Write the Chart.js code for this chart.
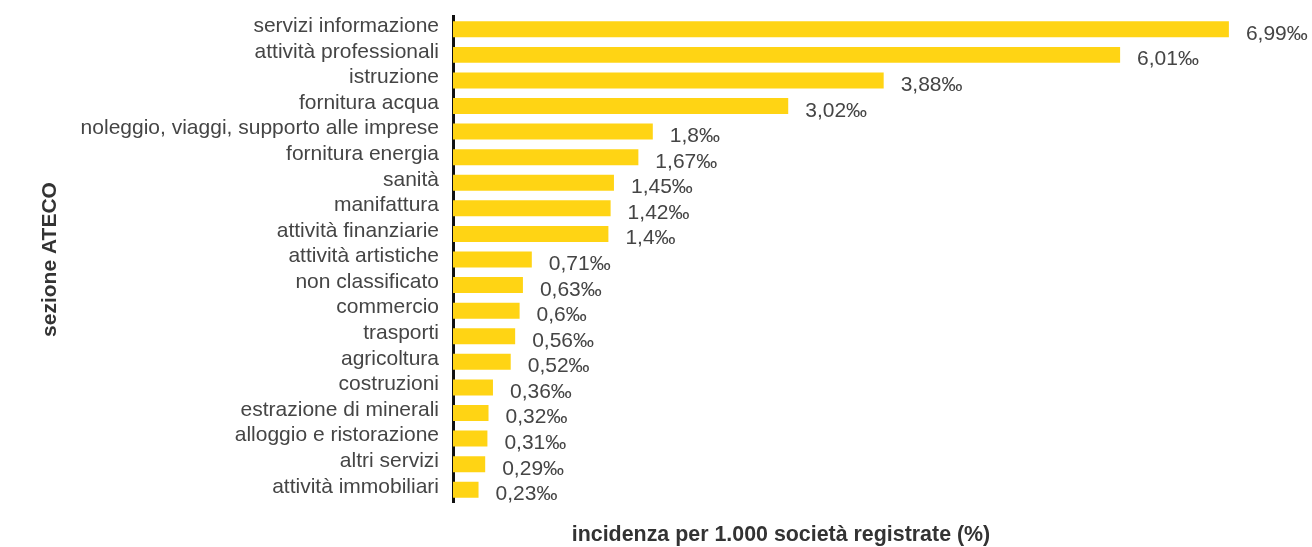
<!DOCTYPE html>
<html>
<head>
<meta charset="utf-8">
<title>Incidenza per sezione ATECO</title>
<script src="https://cdn.jsdelivr.net/npm/chart.js@4.4.1/dist/chart.umd.min.js"></script>
<style>
  html, body { margin: 0; padding: 0; background: #ffffff; }
  #wrap { width: 1312px; height: 547px; position: relative; }
</style>
</head>
<body>
<div id="wrap"><canvas id="chart"></canvas></div>
<script>
// Sezioni ATECO, ordinate per incidenza decrescente
const categories = [
  'servizi informazione',
  'attività professionali',
  'istruzione',
  'fornitura acqua',
  'noleggio, viaggi, supporto alle imprese',
  'fornitura energia',
  'sanità',
  'manifattura',
  'attività finanziarie',
  'attività artistiche',
  'non classificato',
  'commercio',
  'trasporti',
  'agricoltura',
  'costruzioni',
  'estrazione di minerali',
  'alloggio e ristorazione',
  'altri servizi',
  'attività immobiliari'
];

// Incidenza per 1.000 società registrate (‰)
const incidenza = [
  6.99, 6.01, 3.88, 3.02, 1.8, 1.67, 1.45, 1.42, 1.4, 0.71,
  0.63, 0.6, 0.56, 0.52, 0.36, 0.32, 0.31, 0.29, 0.23
];

const yAxisTitle = 'sezione ATECO';
const xAxisTitle = 'incidenza per 1.000 società registrate (%)';
const valueSuffix = '‰';

const FONT = "'Liberation Sans', Arial, Helvetica, sans-serif";
const BAR_COLOR = '#FFD414';
const TEXT_COLOR = '#454545';
const TITLE_COLOR = '#333333';

const fmt = v => String(v).replace('.', ',') + valueSuffix;

// Etichette con il valore a destra di ogni barra
const valueLabels = {
  id: 'valueLabels',
  afterDatasetsDraw(chart) {
    const ctx = chart.ctx;
    const meta = chart.getDatasetMeta(0);
    ctx.save();
    ctx.font = '21px ' + FONT;
    ctx.fillStyle = TEXT_COLOR;
    ctx.textAlign = 'left';
    ctx.textBaseline = 'alphabetic';
    meta.data.forEach((bar, i) => {
      ctx.fillText(fmt(incidenza[i]), bar.x + 17, bar.y + 10.5);
    });
    ctx.restore();
  }
};

// Titolo dell'asse orizzontale, sotto l'area del grafico
const xTitle = {
  id: 'xTitle',
  afterDraw(chart) {
    const ctx = chart.ctx;
    const area = chart.chartArea;
    ctx.save();
    ctx.font = 'bold 21.4px ' + FONT;
    ctx.fillStyle = TITLE_COLOR;
    ctx.textAlign = 'center';
    ctx.textBaseline = 'middle';
    ctx.fillText(xAxisTitle, area.left + 328, area.bottom + 33);
    ctx.restore();
  }
};

new Chart(document.getElementById('chart'), {
  type: 'bar',
  data: {
    labels: categories,
    datasets: [{
      data: incidenza,
      backgroundColor: BAR_COLOR,
      borderWidth: 0,
      categoryPercentage: 1,
      barPercentage: 0.625
    }]
  },
  options: {
    indexAxis: 'y',
    responsive: true,
    maintainAspectRatio: false,
    animation: false,
    layout: { padding: { left: 30, right: 82, top: 16.5, bottom: 44.5 } },
    plugins: {
      legend: { display: false },
      tooltip: { enabled: false }
    },
    scales: {
      x: {
        display: false,
        min: 0,
        max: 7
      },
      y: {
        z: 1,
        grid: { display: false, drawTicks: false },
        border: { display: true, color: '#111111', width: 3 },
        ticks: {
          color: TEXT_COLOR,
          font: { family: FONT, size: 21 },
          padding: 14,
          labelOffset: -3,
          autoSkip: false
        },
        title: {
          display: true,
          text: yAxisTitle,
          color: TITLE_COLOR,
          font: { family: FONT, size: 21, weight: 'bold' },
          padding: { top: 8, bottom: 0 }
        },
        afterFit(scale) {
          scale.width = 423;
          scale.paddingTop = 0;
          scale.paddingBottom = 0;
        }
      }
    }
  },
  plugins: [valueLabels, xTitle]
});
</script>
</body>
</html>
